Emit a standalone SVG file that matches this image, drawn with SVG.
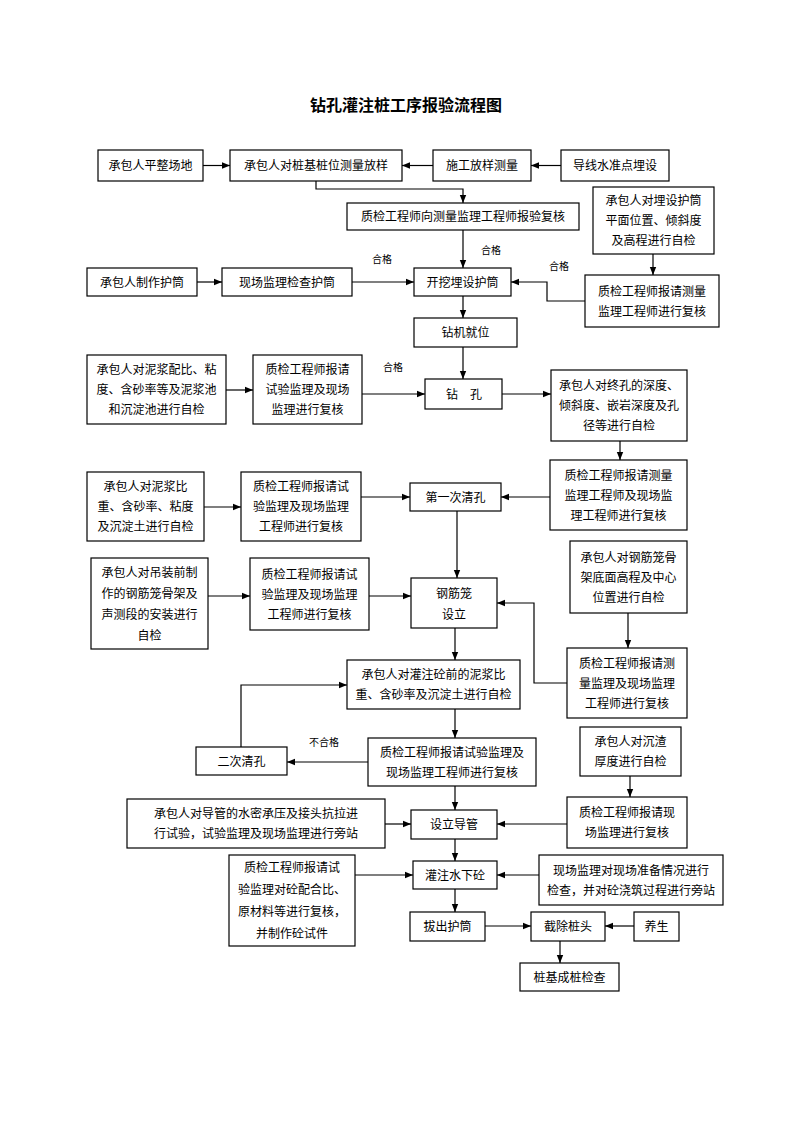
<svg xmlns="http://www.w3.org/2000/svg" width="793" height="1122" viewBox="0 0 793 1122">
<style>
.box{fill:#fff;stroke:#000;stroke-width:1.2}
.t{font-family:"Liberation Serif","Noto Sans CJK SC",serif;font-size:12px;text-anchor:middle;fill:#000}
.lbl{font-family:"Liberation Serif","Noto Sans CJK SC",serif;font-size:10px;text-anchor:middle;fill:#000}
.title{font-family:"Liberation Serif","Noto Sans CJK SC",serif;font-size:16px;font-weight:bold;text-anchor:middle;fill:#000}
.c{fill:none;stroke:#000;stroke-width:1.2;marker-end:url(#ah)}
</style>
<defs>
<marker id="ah" viewBox="0 0 10 10" refX="10" refY="5" markerWidth="8" markerHeight="8" markerUnits="userSpaceOnUse" orient="auto"><path d="M0,1 L10,5 L0,9 z" fill="#000"/></marker>
</defs>
<rect width="793" height="1122" fill="#fff"/>
<text class="title" x="406" y="111">钻孔灌注桩工序报验流程图</text>

<g id="connectors">
<path class="c" d="M203,165.5 H230"/>
<path class="c" d="M433,165.5 H402"/>
<path class="c" d="M561,165.5 H531"/>
<path class="c" d="M316,181 V189 H463 V203"/>
<path class="c" d="M653,254 V275"/>
<path class="c" d="M197,282 H222"/>
<path class="c" d="M352,282 H414"/>
<path class="c" d="M463,230 V268"/>
<path class="c" d="M585,301 H547 V282 H511"/>
<path class="c" d="M463,296 V318"/>
<path class="c" d="M463,347 V379"/>
<path class="c" d="M226,390 H253"/>
<path class="c" d="M362,394 H425"/>
<path class="c" d="M502,394 H551"/>
<path class="c" d="M620,441 V460"/>
<path class="c" d="M550,497 H501"/>
<path class="c" d="M204,507 H241"/>
<path class="c" d="M361,497 H410"/>
<path class="c" d="M457,511 V578"/>
<path class="c" d="M208,596 H250"/>
<path class="c" d="M369,596 H411"/>
<path class="c" d="M628,613 V648"/>
<path class="c" d="M567,683 H534 V603 H497"/>
<path class="c" d="M455,628 V660"/>
<path class="c" d="M455,709 V738"/>
<path class="c" d="M368,762 H287"/>
<path class="c" d="M241,747 V685 H347"/>
<path class="c" d="M630,776 V797"/>
<path class="c" d="M455,786 V810"/>
<path class="c" d="M385,824 H411"/>
<path class="c" d="M567,824 H497"/>
<path class="c" d="M455,839 V861"/>
<path class="c" d="M355,875 H413"/>
<path class="c" d="M539,875 H497"/>
<path class="c" d="M455,889 V912"/>
<path class="c" d="M485,926 H531"/>
<path class="c" d="M634,926 H605"/>
<path class="c" d="M560,941 V963"/>
<text class="lbl" x="382" y="263">合格</text>
<text class="lbl" x="491" y="254">合格</text>
<text class="lbl" x="559" y="270">合格</text>
<text class="lbl" x="393" y="371">合格</text>
<text class="lbl" x="324" y="746">不合格</text>
</g>

<g id="n1"><rect class="box" x="98" y="150" width="105" height="31"/><text class="t" x="150.5" y="170">承包人平整场地</text></g>
<g id="n2"><rect class="box" x="230" y="150" width="172" height="31"/><text class="t" x="316" y="170">承包人对桩基桩位测量放样</text></g>
<g id="n3"><rect class="box" x="433" y="150" width="98" height="31"/><text class="t" x="482" y="170">施工放样测量</text></g>
<g id="n4"><rect class="box" x="561" y="150" width="108" height="31"/><text class="t" x="615" y="170">导线水准点埋设</text></g>
<g id="n5"><rect class="box" x="347" y="203" width="232" height="27"/><text class="t" x="463" y="221">质检工程师向测量监理工程师报验复核</text></g>
<g id="n6"><rect class="box" x="593" y="187" width="121" height="67"/><text class="t"><tspan x="653.5" y="205">承包人对埋设护筒</tspan><tspan x="653.5" y="225">平面位置、倾斜度</tspan><tspan x="653.5" y="245">及高程进行自检</tspan></text></g>
<g id="n7"><rect class="box" x="585" y="275" width="134" height="52"/><text class="t"><tspan x="652" y="295.5">质检工程师报请测量</tspan><tspan x="652" y="315.5">监理工程师进行复核</tspan></text></g>
<g id="n8"><rect class="box" x="87" y="268" width="110" height="28"/><text class="t" x="142" y="286.5">承包人制作护筒</text></g>
<g id="n9"><rect class="box" x="222" y="268" width="130" height="28"/><text class="t" x="287" y="286.5">现场监理检查护筒</text></g>
<g id="n10"><rect class="box" x="414" y="268" width="97" height="28"/><text class="t" x="462.5" y="286.5">开挖埋设护筒</text></g>
<g id="n11"><rect class="box" x="414" y="318" width="103" height="29"/><text class="t" x="465.5" y="337">钻机就位</text></g>
<g id="n12"><rect class="box" x="425" y="379" width="77" height="30"/><text class="t" x="452" y="398.5">钻</text><text class="t" x="476" y="398.5">孔</text></g>
<g id="n13"><rect class="box" x="87" y="355" width="139" height="69"/><text class="t"><tspan x="156.5" y="374">承包人对泥浆配比、粘</tspan><tspan x="156.5" y="394">度、含砂率等及泥浆池</tspan><tspan x="156.5" y="414">和沉淀池进行自检</tspan></text></g>
<g id="n14"><rect class="box" x="253" y="355" width="109" height="69"/><text class="t"><tspan x="307.5" y="374">质检工程师报请</tspan><tspan x="307.5" y="394">试验监理及现场</tspan><tspan x="307.5" y="414">监理进行复核</tspan></text></g>
<g id="n15"><rect class="box" x="551" y="370" width="136" height="71"/><text class="t"><tspan x="619" y="390">承包人对终孔的深度、</tspan><tspan x="619" y="410">倾斜度、嵌岩深度及孔</tspan><tspan x="619" y="430">径等进行自检</tspan></text></g>
<g id="n16"><rect class="box" x="550" y="460" width="137" height="70"/><text class="t"><tspan x="618.5" y="479.5">质检工程师报请测量</tspan><tspan x="618.5" y="499.5">监理工程师及现场监</tspan><tspan x="618.5" y="519.5">理工程师进行复核</tspan></text></g>
<g id="n17"><rect class="box" x="410" y="483" width="91" height="28"/><text class="t" x="455.5" y="501.5">第一次清孔</text></g>
<g id="n18"><rect class="box" x="87" y="472" width="117" height="69"/><text class="t"><tspan x="145.5" y="491">承包人对泥浆比</tspan><tspan x="145.5" y="511">重、含砂率、粘度</tspan><tspan x="145.5" y="531">及沉淀土进行自检</tspan></text></g>
<g id="n19"><rect class="box" x="241" y="472" width="120" height="69"/><text class="t"><tspan x="301" y="491">质检工程师报请试</tspan><tspan x="301" y="511">验监理及现场监理</tspan><tspan x="301" y="531">工程师进行复核</tspan></text></g>
<g id="n20"><rect class="box" x="411" y="578" width="86" height="50"/><text class="t"><tspan x="454" y="597.5">钢筋笼</tspan><tspan x="454" y="618.5">设立</tspan></text></g>
<g id="n21"><rect class="box" x="91" y="558" width="117" height="91"/><text class="t"><tspan x="149.5" y="576.5">承包人对吊装前制</tspan><tspan x="149.5" y="597.5">作的钢筋笼骨架及</tspan><tspan x="149.5" y="618.5">声测段的安装进行</tspan><tspan x="149.5" y="639.5">自检</tspan></text></g>
<g id="n22"><rect class="box" x="250" y="558" width="119" height="72"/><text class="t"><tspan x="309.5" y="578.5">质检工程师报请试</tspan><tspan x="309.5" y="598.5">验监理及现场监理</tspan><tspan x="309.5" y="618.5">工程师进行复核</tspan></text></g>
<g id="n23"><rect class="box" x="570" y="541" width="117" height="72"/><text class="t"><tspan x="628.5" y="561.5">承包人对钢筋笼骨</tspan><tspan x="628.5" y="581.5">架底面高程及中心</tspan><tspan x="628.5" y="601.5">位置进行自检</tspan></text></g>
<g id="n24"><rect class="box" x="567" y="648" width="120" height="70"/><text class="t"><tspan x="627" y="667.5">质检工程师报请测</tspan><tspan x="627" y="687.5">量监理及现场监理</tspan><tspan x="627" y="707.5">工程师进行复核</tspan></text></g>
<g id="n25"><rect class="box" x="347" y="660" width="173" height="49"/><text class="t"><tspan x="433.5" y="679">承包人对灌注砼前的泥浆比</tspan><tspan x="433.5" y="699">重、含砂率及沉淀土进行自检</tspan></text></g>
<g id="n26"><rect class="box" x="368" y="738" width="168" height="48"/><text class="t"><tspan x="452" y="756.5">质检工程师报请试验监理及</tspan><tspan x="452" y="776.5">现场监理工程师进行复核</tspan></text></g>
<g id="n27"><rect class="box" x="196" y="747" width="91" height="28"/><text class="t" x="241.5" y="765.5">二次清孔</text></g>
<g id="n28"><rect class="box" x="580" y="727" width="101" height="49"/><text class="t"><tspan x="630.5" y="746">承包人对沉渣</tspan><tspan x="630.5" y="766">厚度进行自检</tspan></text></g>
<g id="n29"><rect class="box" x="567" y="797" width="120" height="51"/><text class="t"><tspan x="627" y="817">质检工程师报请现</tspan><tspan x="627" y="837">场监理进行复核</tspan></text></g>
<g id="n30"><rect class="box" x="411" y="810" width="86" height="29"/><text class="t" x="454" y="829">设立导管</text></g>
<g id="n31"><rect class="box" x="127" y="799" width="258" height="49"/><text class="t"><tspan x="256" y="818">承包人对导管的水密承压及接头抗拉进</tspan><tspan x="256" y="838">行试验，试验监理及现场监理进行旁站</tspan></text></g>
<g id="n32"><rect class="box" x="413" y="861" width="84" height="28"/><text class="t" x="455" y="879.5">灌注水下砼</text></g>
<g id="n33"><rect class="box" x="229" y="855" width="126" height="91"/><text class="t"><tspan x="292" y="872">质检工程师报请试</tspan><tspan x="292" y="894">验监理对砼配合比、</tspan><tspan x="292" y="916">原材料等进行复核，</tspan><tspan x="292" y="938">并制作砼试件</tspan></text></g>
<g id="n34"><rect class="box" x="539" y="855" width="184" height="50"/><text class="t"><tspan x="631" y="874.5">现场监理对现场准备情况进行</tspan><tspan x="631" y="894.5">检查，并对砼浇筑过程进行旁站</tspan></text></g>
<g id="n35"><rect class="box" x="410" y="912" width="75" height="29"/><text class="t" x="447.5" y="931">拔出护筒</text></g>
<g id="n36"><rect class="box" x="531" y="912" width="74" height="29"/><text class="t" x="568" y="931">截除桩头</text></g>
<g id="n37"><rect class="box" x="634" y="912" width="45" height="29"/><text class="t" x="656.5" y="931">养生</text></g>
<g id="n38"><rect class="box" x="520" y="963" width="99" height="28"/><text class="t" x="569.5" y="981.5">桩基成桩检查</text></g>
</svg>
